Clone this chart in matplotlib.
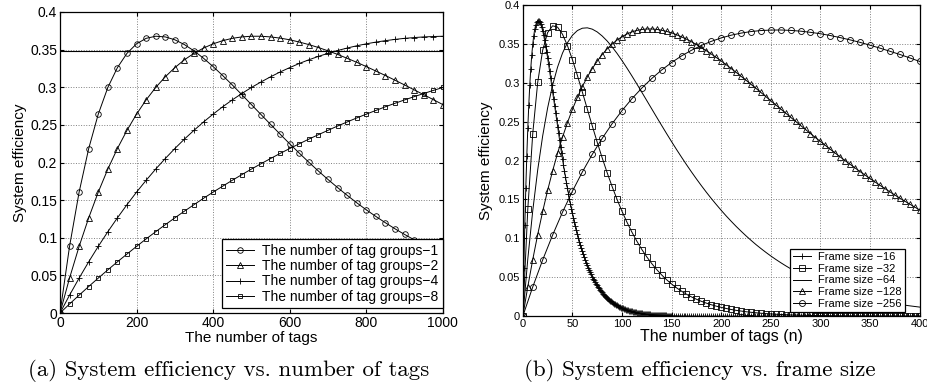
import matplotlib
matplotlib.use("Agg")
import matplotlib.pyplot as plt

plt.rcParams["font.family"] = ["Liberation Sans", "DejaVu Sans"]

# ---------- (a) tag groups, markers every 25 tags ----------
tags_a = list(range(0, 1001, 25))
groups_1 = [0, 0.0886, 0.1607, 0.2185, 0.2643, 0.2997, 0.3261, 0.3451, 0.3577, 0.3650,
            0.3678, 0.3669, 0.3631, 0.3567, 0.3484, 0.3385, 0.3275, 0.3156, 0.3031, 0.2902,
            0.2770, 0.2638, 0.2507, 0.2377, 0.2249, 0.2125, 0.2004, 0.1887, 0.1775, 0.1668,
            0.1565, 0.1466, 0.1372, 0.1284, 0.1200, 0.1120, 0.1045, 0.0974, 0.0908, 0.0845,
            0.0786]
groups_2 = [0, 0.0465, 0.0886, 0.1265, 0.1607, 0.1913, 0.2186, 0.2428, 0.2643, 0.2832,
            0.2997, 0.3139, 0.3261, 0.3365, 0.3451, 0.3521, 0.3577, 0.3619, 0.3650, 0.3669,
            0.3678, 0.3678, 0.3669, 0.3653, 0.3631, 0.3601, 0.3567, 0.3528, 0.3484, 0.3437,
            0.3385, 0.3332, 0.3275, 0.3216, 0.3156, 0.3094, 0.3031, 0.2966, 0.2902, 0.2836,
            0.2770]
groups_4 = [0, 0.0238, 0.0465, 0.0681, 0.0886, 0.1081, 0.1265, 0.1440, 0.1607, 0.1764,
            0.1913, 0.2053, 0.2186, 0.2311, 0.2428, 0.2539, 0.2643, 0.2741, 0.2832, 0.2917,
            0.2997, 0.3070, 0.3139, 0.3203, 0.3261, 0.3316, 0.3365, 0.3410, 0.3451, 0.3488,
            0.3521, 0.3551, 0.3577, 0.3600, 0.3619, 0.3636, 0.3650, 0.3660, 0.3669, 0.3674,
            0.3678]
groups_8 = [0, 0.0121, 0.0238, 0.0353, 0.0465, 0.0574, 0.0681, 0.0784, 0.0886, 0.0985,
            0.1081, 0.1174, 0.1265, 0.1354, 0.1440, 0.1525, 0.1607, 0.1686, 0.1764, 0.1839,
            0.1913, 0.1984, 0.2053, 0.2121, 0.2186, 0.2249, 0.2311, 0.2370, 0.2428, 0.2485,
            0.2539, 0.2592, 0.2643, 0.2692, 0.2741, 0.2787, 0.2832, 0.2875, 0.2917, 0.2958,
            0.2997]
ref_level = 0.348

# ---------- (b) frame sizes ----------
# frame 16: every tag up to 150, then every 2nd tag
n_16 = list(range(0, 151)) + list(range(152, 401, 2))
frame_16 = [0, 0.0625, 0.1172, 0.1648, 0.2060, 0.2414, 0.2716, 0.2970, 0.3183, 0.3357,
            0.3496, 0.3606, 0.3688, 0.3745, 0.3781, 0.3798, 0.3798, 0.3783, 0.3755, 0.3716,
            0.3667, 0.3610, 0.3546, 0.3475, 0.3400, 0.3320, 0.3237, 0.3151, 0.3064, 0.2975,
            0.2885, 0.2795, 0.2705, 0.2615, 0.2526, 0.2438, 0.2351, 0.2265, 0.2181, 0.2098,
            0.2018, 0.1939, 0.1862, 0.1787, 0.1714, 0.1644, 0.1575, 0.1509, 0.1445, 0.1383,
            0.1323, 0.1265, 0.1209, 0.1155, 0.1104, 0.1054, 0.1006, 0.0960, 0.0916, 0.0873,
            0.0832, 0.0793, 0.0756, 0.0720, 0.0686, 0.0653, 0.0622, 0.0592, 0.0563, 0.0536,
            0.0509, 0.0484, 0.0460, 0.0438, 0.0416, 0.0395, 0.0375, 0.0357, 0.0339, 0.0321,
            0.0305, 0.0290, 0.0275, 0.0261, 0.0248, 0.0235, 0.0223, 0.0211, 0.0200, 0.0190,
            0.0180, 0.0171, 0.0162, 0.0153, 0.0145, 0.0138, 0.0130, 0.0124, 0.0117, 0.0111,
            0.0105, 0.0099, 0.0094, 0.0089, 0.0084, 0.0080, 0.0076, 0.0071, 0.0068, 0.0064,
            0.0061, 0.0057, 0.0054, 0.0051, 0.0048, 0.0046, 0.0043, 0.0041, 0.0039, 0.0037,
            0.0035, 0.0033, 0.0031, 0.0029, 0.0028, 0.0026, 0.0025, 0.0023, 0.0022, 0.0021,
            0.0020, 0.0019, 0.0018, 0.0017, 0.0016, 0.0015, 0.0014, 0.0013, 0.0012, 0.0012,
            0.0011, 0.0010, 0.0010, 0.0009, 0.0009, 0.0008, 0.0008, 0.0007, 0.0007, 0.0006,
            0.0006,
            0.0005, 0.0005, 0.0004, 0.0004, 0.0003, 0.0003, 0.0003, 0.0002, 0.0002, 0.0002,
            0.0002, 0.0001, 0.0001, 0.0001, 0.0001, 0.0001, 0.0001, 0.0001, 0.0001, 0.0001,
            0, 0, 0, 0, 0, 0, 0, 0, 0, 0, 0, 0, 0, 0, 0, 0, 0, 0, 0, 0,
            0, 0, 0, 0, 0, 0, 0, 0, 0, 0, 0, 0, 0, 0, 0, 0, 0, 0, 0, 0,
            0, 0, 0, 0, 0, 0, 0, 0, 0, 0, 0, 0, 0, 0, 0, 0, 0, 0, 0, 0,
            0, 0, 0, 0, 0, 0, 0, 0, 0, 0, 0, 0, 0, 0, 0, 0, 0, 0, 0, 0,
            0, 0, 0, 0, 0, 0, 0, 0, 0, 0, 0, 0, 0, 0, 0, 0, 0, 0, 0, 0,
            0, 0, 0, 0, 0]

n_5 = list(range(0, 401, 5))
frame_32 = [0, 0.1376, 0.2348, 0.3005, 0.3419, 0.3646, 0.3733, 0.3716, 0.3624, 0.3478,
            0.3298, 0.3095, 0.2881, 0.2663, 0.2447, 0.2236, 0.2035, 0.1845, 0.1667, 0.1501,
            0.1348, 0.1208, 0.1080, 0.0963, 0.0857, 0.0762, 0.0676, 0.0599, 0.0530, 0.0468,
            0.0413, 0.0364, 0.0321, 0.0282, 0.0248, 0.0218, 0.0191, 0.0168, 0.0147, 0.0129,
            0.0113, 0.0099, 0.0086, 0.0075, 0.0066, 0.0057, 0.0050, 0.0044, 0.0038, 0.0033,
            0.0029, 0.0025, 0.0022, 0.0019, 0.0016, 0.0014, 0.0012, 0.0011, 0.0009, 0.0008,
            0.0007, 0.0006, 0.0005, 0.0004, 0.0004, 0.0003, 0.0003, 0.0002, 0.0002, 0.0002,
            0.0001, 0.0001, 0.0001, 0.0001, 0.0001, 0.0001, 0, 0, 0, 0,
            0]
frame_64 = [0, 0.0734, 0.1356, 0.1880, 0.2317, 0.2677, 0.2969, 0.3201, 0.3382, 0.3516,
            0.3611, 0.3672, 0.3702, 0.3707, 0.3690, 0.3654, 0.3602, 0.3538, 0.3462, 0.3378,
            0.3286, 0.3189, 0.3088, 0.2984, 0.2878, 0.2771, 0.2664, 0.2557, 0.2451, 0.2346,
            0.2243, 0.2142, 0.2044, 0.1948, 0.1855, 0.1765, 0.1678, 0.1594, 0.1513, 0.1436,
            0.1361, 0.1289, 0.1221, 0.1155, 0.1093, 0.1033, 0.0976, 0.0921, 0.0870, 0.0821,
            0.0774, 0.0730, 0.0688, 0.0648, 0.0610, 0.0574, 0.0541, 0.0509, 0.0478, 0.0450,
            0.0423, 0.0397, 0.0373, 0.0351, 0.0329, 0.0309, 0.0290, 0.0272, 0.0255, 0.0240,
            0.0225, 0.0211, 0.0197, 0.0185, 0.0173, 0.0162, 0.0152, 0.0142, 0.0133, 0.0125,
            0.0117]
frame_128 = [0, 0.0379, 0.0728, 0.1050, 0.1346, 0.1618, 0.1867, 0.2094, 0.2301, 0.2489,
             0.2660, 0.2813, 0.2951, 0.3074, 0.3183, 0.3279, 0.3363, 0.3436, 0.3498, 0.3550,
             0.3593, 0.3628, 0.3655, 0.3674, 0.3686, 0.3692, 0.3692, 0.3687, 0.3676, 0.3661,
             0.3642, 0.3618, 0.3591, 0.3561, 0.3528, 0.3492, 0.3454, 0.3413, 0.3370, 0.3326,
             0.3280, 0.3233, 0.3184, 0.3135, 0.3084, 0.3033, 0.2981, 0.2929, 0.2876, 0.2823,
             0.2770, 0.2716, 0.2663, 0.2610, 0.2557, 0.2504, 0.2452, 0.2400, 0.2348, 0.2296,
             0.2246, 0.2195, 0.2145, 0.2096, 0.2047, 0.1999, 0.1952, 0.1905, 0.1859, 0.1814,
             0.1770, 0.1726, 0.1683, 0.1641, 0.1599, 0.1558, 0.1518, 0.1479, 0.1441, 0.1403,
             0.1366]
n_10 = list(range(0, 401, 10))
frame_256 = [0, 0.0376, 0.0723, 0.1042, 0.1337, 0.1607, 0.1854, 0.2080, 0.2286, 0.2474,
             0.2643, 0.2796, 0.2933, 0.3056, 0.3165, 0.3261, 0.3346, 0.3418, 0.3481, 0.3533,
             0.3577, 0.3612, 0.3639, 0.3659, 0.3672, 0.3678, 0.3679, 0.3674, 0.3664, 0.3649,
             0.3631, 0.3608, 0.3581, 0.3552, 0.3520, 0.3484, 0.3446, 0.3406, 0.3365, 0.3321,
             0.3275]

y_ticks = [0, 0.05, 0.1, 0.15, 0.2, 0.25, 0.3, 0.35, 0.4]
y_ticklabels = ["0", "0.05", "0.1", "0.15", "0.2", "0.25", "0.3", "0.35", "0.4"]

fig = plt.figure(figsize=(9.27, 3.87), dpi=100)
ax1 = fig.add_axes([0.0647, 0.191, 0.413, 0.778])
ax2 = fig.add_axes([0.564, 0.183, 0.428, 0.804])

lw = 0.7
mk = dict(markerfacecolor="none", markeredgecolor="black", markeredgewidth=0.6)

# ----- (a) -----
ax1.axhline(ref_level, color="black", linewidth=0.8)
ax1.plot(tags_a, groups_1, "k-", marker="o", markersize=4, linewidth=lw, label="The number of tag groups\u22121", **mk)
ax1.plot(tags_a, groups_2, "k-", marker="^", markersize=4.5, linewidth=lw, label="The number of tag groups\u22122", **mk)
ax1.plot(tags_a, groups_4, "k-", marker="+", markersize=5, linewidth=lw, label="The number of tag groups\u22124", **mk)
ax1.plot(tags_a, groups_8, "k-", marker="s", markersize=3.5, linewidth=lw, label="The number of tag groups\u22128", **mk)
ax1.set_xlim(0, 1000)
ax1.set_ylim(0, 0.4)
ax1.set_xticks([0, 200, 400, 600, 800, 1000])
ax1.set_yticks(y_ticks)
ax1.set_yticklabels(y_ticklabels)
ax1.tick_params(labelsize=10)
ax1.set_xlabel("The number of tags", fontsize=11, labelpad=1)
ax1.set_ylabel("System efficiency", fontsize=11, labelpad=2)
leg1 = ax1.legend(loc="lower right", bbox_to_anchor=(1.0, 0.017), fontsize=10, frameon=True,
                  fancybox=False, edgecolor="black", framealpha=1, borderaxespad=0,
                  labelspacing=0.1, handlelength=2.0, borderpad=0.3, handletextpad=0.6)
leg1.get_frame().set_linewidth(0.9)

# ----- (b) -----
ax2.plot(n_16, frame_16, "k-", marker="+", markersize=5, linewidth=lw, label="Frame size \u221216", **mk)
ax2.plot(n_5, frame_32, "k-", marker="s", markersize=3.8, linewidth=lw, label="Frame size \u221232", **mk)
ax2.plot(n_5, frame_64, "k-", linewidth=lw, label="Frame size \u221264")
ax2.plot(n_5, frame_128, "k-", marker="^", markersize=4.5, linewidth=lw, label="Frame size \u2212128", **mk)
ax2.plot(n_10, frame_256, "k-", marker="o", markersize=4.3, linewidth=lw, label="Frame size \u2212256", **mk)
ax2.set_xlim(0, 400)
ax2.set_ylim(0, 0.4)
ax2.set_xticks(list(range(0, 401, 50)))
ax2.set_yticks(y_ticks)
ax2.set_yticklabels(y_ticklabels)
ax2.tick_params(labelsize=8)
ax2.set_xlabel("The number of tags (n)", fontsize=11.5, labelpad=0)
ax2.set_ylabel("System efficiency", fontsize=11, labelpad=4)
leg2 = ax2.legend(loc="lower right", bbox_to_anchor=(0.962, 0.013), fontsize=8, frameon=True,
                  fancybox=False, edgecolor="black", framealpha=1, borderaxespad=0,
                  labelspacing=0.15, handlelength=1.6, borderpad=0.3, handletextpad=0.6)
leg2.get_frame().set_linewidth(0.9)

for ax in (ax1, ax2):
    ax.grid(True, linestyle=":", color="gray", linewidth=0.7)
    ax.tick_params(direction="in", top=True, right=True, length=3, pad=2)
    for s in ax.spines.values():
        s.set_linewidth(0.9)

fig.text(229 / 927, 1 - 370 / 387, "(a) System efficiency vs. number of tags",
         family="cmr10", fontsize=16.5, ha="center", va="center")
fig.text(700 / 927, 1 - 370 / 387, "(b) System efficiency vs. frame size",
         family="cmr10", fontsize=16.5, ha="center", va="center")

fig.savefig("out.png", dpi=100)
